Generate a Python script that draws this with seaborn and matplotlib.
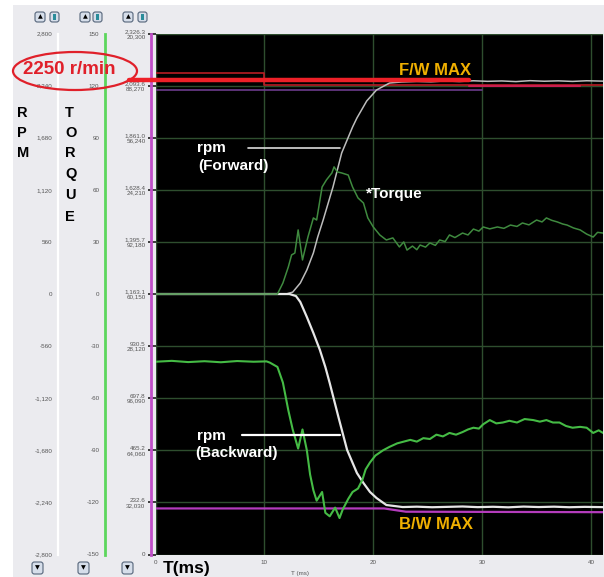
import matplotlib
matplotlib.use("Agg")
import matplotlib.pyplot as plt
import seaborn as sns
from matplotlib.patches import Rectangle, Ellipse, FancyBboxPatch
from matplotlib.lines import Line2D
from matplotlib.ticker import AutoMinorLocator

W, H = 604, 577

# axis scales
time_ticks = [0, 10, 20, 30, 40]
rpm_ticks = [2800, 2240, 1680, 1120, 560, 0, -560, -1120, -1680, -2240, -2800]
rpm_labels = ["2,800", "2,240", "1,680", "1,120", "560", "0", "-560",
              "-1,120", "-1,680", "-2,240", "-2,800"]
torque_ticks = [150, 120, 90, 60, 30, 0, -30, -60, -90, -120, -150]
aux_labels = ["2,326.3\n20,300", "2,093.6\n88,270", "1,861.0\n56,240",
              "1,628.4\n24,210", "1,395.7\n92,180", "1,163.1\n60,150",
              "930.5\n28,120", "697.8\n96,090", "465.2\n64,060",
              "232.6\n32,030", "0"]

# speed (r/min)
fwd_rpm_t = [0, 12.0, 12.6, 13.3, 13.9, 14.5, 14.9, 15.4, 16.3, 17.1, 18.1, 18.5,
             19.4, 20.3, 21.5, 22.6, 24.0, 25.3, 26.6, 27.9, 29.2, 30.5, 31.8,
             33.1, 34.4, 35.7, 37.0, 38.3, 39.6, 41.1]
fwd_rpm = [0, 0, 20, 118, 258, 441, 613, 796, 1150, 1516, 1795, 1892, 2075, 2193,
           2268, 2279, 2285, 2281, 2290, 2284, 2292, 2286, 2290, 2283, 2293, 2287,
           2291, 2285, 2292, 2288]
bwd_rpm_t = [0, 12.3, 12.9, 13.3, 13.9, 14.5, 15.1, 15.6, 16.0, 16.8, 17.6, 18.5,
             19.1, 19.7, 20.3, 21.2, 22.7, 24.0, 25.4, 26.8, 28.2, 29.6, 31.0,
             32.4, 33.8, 35.2, 36.6, 38.0, 39.4, 41.1]
bwd_rpm = [0, 0, -22, -86, -247, -419, -602, -785, -957, -1322, -1677, -1924,
           -2032, -2128, -2193, -2268, -2290, -2286, -2292, -2288, -2284, -2291,
           -2287, -2293, -2285, -2290, -2286, -2292, -2288, -2291]

# torque
fwd_torque_t = [0, 11.2, 11.7, 12.2, 12.5, 12.8, 13.1, 13.5, 14.0, 14.5, 14.8,
                15.3, 15.7, 16.2, 16.4, 16.7, 17.1, 17.7, 18.1, 18.6, 19.1, 19.5,
                20.0, 20.6, 21.2, 21.8, 22.4, 22.8, 23.1, 23.6, 24.0, 24.3, 24.8,
                25.2, 25.7, 26.1, 26.6, 27.0, 27.5, 28.2, 28.7, 29.2, 29.7, 30.1,
                30.7, 31.4, 32.0, 32.6, 33.2, 33.7, 34.3, 35.0, 35.5, 35.9, 36.4,
                36.9, 37.4, 37.8, 38.4, 39.0, 39.6, 40.2, 40.6, 41.1]
fwd_torque = [0, 0, 6.3, 15.6, 22.5, 23.6, 36.9, 19.6, 32.8, 43.8, 42.6, 61.6,
              65.7, 69.7, 73.2, 70.3, 69.7, 68.5, 61.6, 55.3, 52.4, 43.8, 38.6,
              34.0, 31.1, 32.3, 27.1, 30.0, 25.3, 27.6, 25.5, 28.2, 27.0, 29.4,
              28.0, 31.1, 30.2, 34.0, 32.5, 35.1, 34.0, 37.4, 36.2, 38.6, 37.5,
              38.6, 37.8, 39.7, 38.9, 40.9, 39.8, 42.6, 41.5, 43.8, 42.4, 41.5,
              40.3, 39.7, 38.0, 36.9, 34.5, 32.8, 35.5, 35.1]
bwd_torque_t = [0, 1.5, 3.0, 4.5, 6.0, 7.5, 9.0, 10.2, 10.5, 11.2, 11.7, 12.2,
                12.6, 13.1, 13.5, 13.9, 14.2, 14.5, 14.8, 15.3, 15.6, 16.0, 16.5,
                16.9, 17.2, 17.7, 18.1, 18.6, 19.0, 19.3, 19.7, 20.2, 20.9, 21.5,
                22.2, 22.8, 23.4, 24.0, 24.6, 25.2, 25.8, 26.4, 27.0, 27.6, 28.2,
                28.7, 29.2, 29.7, 30.1, 30.7, 31.3, 31.9, 32.5, 33.2, 33.9, 34.7,
                35.3, 35.9, 36.5, 37.1, 37.7, 38.3, 39.0, 39.6, 40.2, 40.7, 41.1]
bwd_torque = [-39, -38.5, -39.2, -38.7, -39.3, -38.6, -39.0, -38.8, -39.5, -42,
              -51, -67, -78, -89, -78, -90, -104, -113, -119, -114, -126, -128,
              -123, -129, -124, -118, -114, -112, -107, -101, -97, -93, -90, -88,
              -86, -85, -84, -85, -83, -83.5, -81, -82, -80, -81, -79.5, -78, -77,
              -77.5, -75, -72.6, -74.5, -74, -73, -74, -72, -72.6, -73.5, -72.6,
              -74, -74, -76, -77, -76.5, -77, -80, -78.5, -80]

# limit / command lines (r/min)
fw_max_t = [0, 28.8]
fw_max = [2305, 2305]
cmd_t = [0, 10, 10, 41.1]
cmd = [2380, 2380, 2250, 2250]
purple_t = [0, 30]
purple = [2197, 2197]
crimson_t = [28.8, 39.0]
crimson = [2238, 2238]
bw_max_t = [0, 21, 23, 41.1]
bw_max = [-2305, -2305, -2340, -2345]


def fx(x):
    return x / W


def fy(y):
    return 1 - y / H


sns.set_theme(style="white")
plt.rcParams["font.family"] = ["Liberation Sans", "DejaVu Sans"]

fig = plt.figure(figsize=(W / 100, H / 100), dpi=100)
fig.patch.set_facecolor("white")
fig.add_artist(Rectangle((fx(13), 0), 1, fy(5), transform=fig.transFigure,
                         fc="#ebebef", ec="none", zorder=-10))

ax_b, ax_t = fy(554.5), fy(33.5)
ax = fig.add_axes([fx(155.5), ax_b, fx(603) - fx(155.5), ax_t - ax_b])
ax.set_facecolor("black")
ax.set_xlim(0, 41.1)
ax.set_ylim(-2800, 2800)
ax.set_xticks(time_ticks)
ax.set_yticks(rpm_ticks)
ax.grid(True, color="#2e4e2e", lw=1)
for s in ax.spines.values():
    s.set_visible(False)
ax.tick_params(axis="y", left=False, labelleft=False)
ax.tick_params(axis="x", length=0, pad=4, labelsize=4.5, labelcolor="#555555")

# limit lines
sns.lineplot(x=purple_t, y=purple, ax=ax, color="#6c3c8c", lw=1.2, estimator=None, sort=False)
sns.lineplot(x=cmd_t, y=cmd, ax=ax, color="#b81c24", lw=1.2, estimator=None, sort=False)
sns.lineplot(x=crimson_t, y=crimson, ax=ax, color="#c81e50", lw=1.5, estimator=None, sort=False)
sns.lineplot(x=bw_max_t, y=bw_max, ax=ax, color="#b43cbc", lw=1.6, estimator=None, sort=False)

# speed
sns.lineplot(x=fwd_rpm_t, y=fwd_rpm, ax=ax, color="#bdbdbd", lw=1.1, estimator=None, sort=False)
sns.lineplot(x=bwd_rpm_t, y=bwd_rpm, ax=ax, color="#e6e6e6", lw=1.6, estimator=None, sort=False)
sns.lineplot(x=fw_max_t, y=fw_max, ax=ax, color="#ee2028", lw=3.2, estimator=None, sort=False)

# torque on its own scale
ax_tq = ax.twinx()
ax_tq.set_ylim(-150, 150)
ax_tq.axis("off")
sns.lineplot(x=fwd_torque_t, y=fwd_torque, ax=ax_tq, color="#3f8a3f", lw=1.1, estimator=None, sort=False)
sns.lineplot(x=bwd_torque_t, y=bwd_torque, ax=ax_tq, color="#45bb45", lw=1.5, estimator=None, sort=False)
ax.set_xlabel("")
ax.set_ylabel("")


def scale_axis(xpix, color, lw, lim, ticks, labels, minor=False):
    a = fig.add_axes([fx(xpix), ax_b, 0.0001, ax_t - ax_b])
    a.patch.set_visible(False)
    for s in ["top", "right", "bottom"]:
        a.spines[s].set_visible(False)
    a.spines["left"].set_color(color)
    a.spines["left"].set_linewidth(lw)
    a.set_xticks([])
    a.set_ylim(*lim)
    a.set_yticks(ticks)
    a.set_yticklabels(labels, fontsize=4.5, color="#555555", linespacing=1.0)
    a.tick_params(axis="y", length=2.5, width=0.6, color="#888888", pad=1.5)
    if minor:
        a.yaxis.set_minor_locator(AutoMinorLocator(4))
        a.tick_params(axis="y", which="minor", direction="inout", length=3,
                      width=0.6, color="#aaaaaa")
    return a


scale_axis(58, "white", 1.6, (-2800, 2800), rpm_ticks, rpm_labels, minor=True)
scale_axis(105, "#5cd65c", 2.0, (-150, 150), torque_ticks, [str(v) for v in torque_ticks])
scale_axis(151, "#c050c8", 2.0, (-2800, 2800), rpm_ticks, aux_labels)

# annotations
bold = dict(fontweight="bold")
fig.text(fx(23), fy(74), "2250 r/min", color="#e0202a", fontsize=13.5, **bold)
fig.add_artist(Ellipse((fx(75), fy(71)), 124 / W, 38 / H, transform=fig.transFigure,
                       fill=False, ec="#e0202a", lw=1.6))
fig.add_artist(Line2D([fx(129), fx(156)], [fy(80), fy(80)], color="#ee2028", lw=3.2))

for ch, yb in zip("RPM", [117, 137, 157]):
    fig.text(fx(17), fy(yb), ch, color="black", fontsize=10.5, **bold)
for ch, yb in zip("TORQUE", [117, 137, 157, 178, 199, 221]):
    fig.text(fx(65), fy(yb), ch, color="black", fontsize=10.5, **bold)

fig.text(fx(399), fy(75), "F/W MAX", color="#f0b000", fontsize=12, **bold)
fig.text(fx(399), fy(529), "B/W MAX", color="#f0b000", fontsize=12, **bold)
fig.text(fx(197), fy(152), "rpm", color="white", fontsize=11, **bold)
fig.text(fx(198), fy(170), "(Forward)", color="white", fontsize=11, **bold)
fig.text(fx(366), fy(198), "*Torque", color="white", fontsize=11, **bold)
fig.text(fx(197), fy(440), "rpm", color="white", fontsize=11, **bold)
fig.text(fx(195), fy(457), "(Backward)", color="white", fontsize=11, **bold)
fig.add_artist(Line2D([fx(248), fx(340)], [fy(148), fy(148)], color="#dddddd", lw=1.2))
fig.add_artist(Line2D([fx(242), fx(340)], [fy(435), fy(435)], color="white", lw=1.6))
fig.text(fx(163), fy(573), "T(ms)", color="black", fontsize=12.5, **bold)
fig.text(fx(300), fy(573), "T (ms)", color="#555555", fontsize=4.5,
         ha="center", va="center")


def button(x, y, w, h, glyph):
    fig.add_artist(FancyBboxPatch((fx(x), fy(y + h)), w / W, h / H,
                                  boxstyle="round,pad=0,rounding_size=0.004",
                                  transform=fig.transFigure, fc="#d6deea",
                                  ec="#55657a", lw=0.8))
    if glyph:
        fig.text(fx(x + w / 2), fy(y + h / 2), glyph, ha="center", va="center",
                 fontsize=4.5, color="black", family="DejaVu Sans")
    else:
        fig.add_artist(Rectangle((fx(x + 3), fy(y + h - 2)), (w - 6) / W, (h - 4) / H,
                                 transform=fig.transFigure, fc="#2a8c9a", ec="none"))


for bx in [35, 80, 123]:
    button(bx, 12, 10, 10, "\u25b2")
for bx in [50, 93, 138]:
    button(bx, 12, 9, 10, None)
for bx in [32, 78, 122]:
    button(bx, 562, 11, 12, "\u25bc")

fig.savefig("out.png", dpi=100)
